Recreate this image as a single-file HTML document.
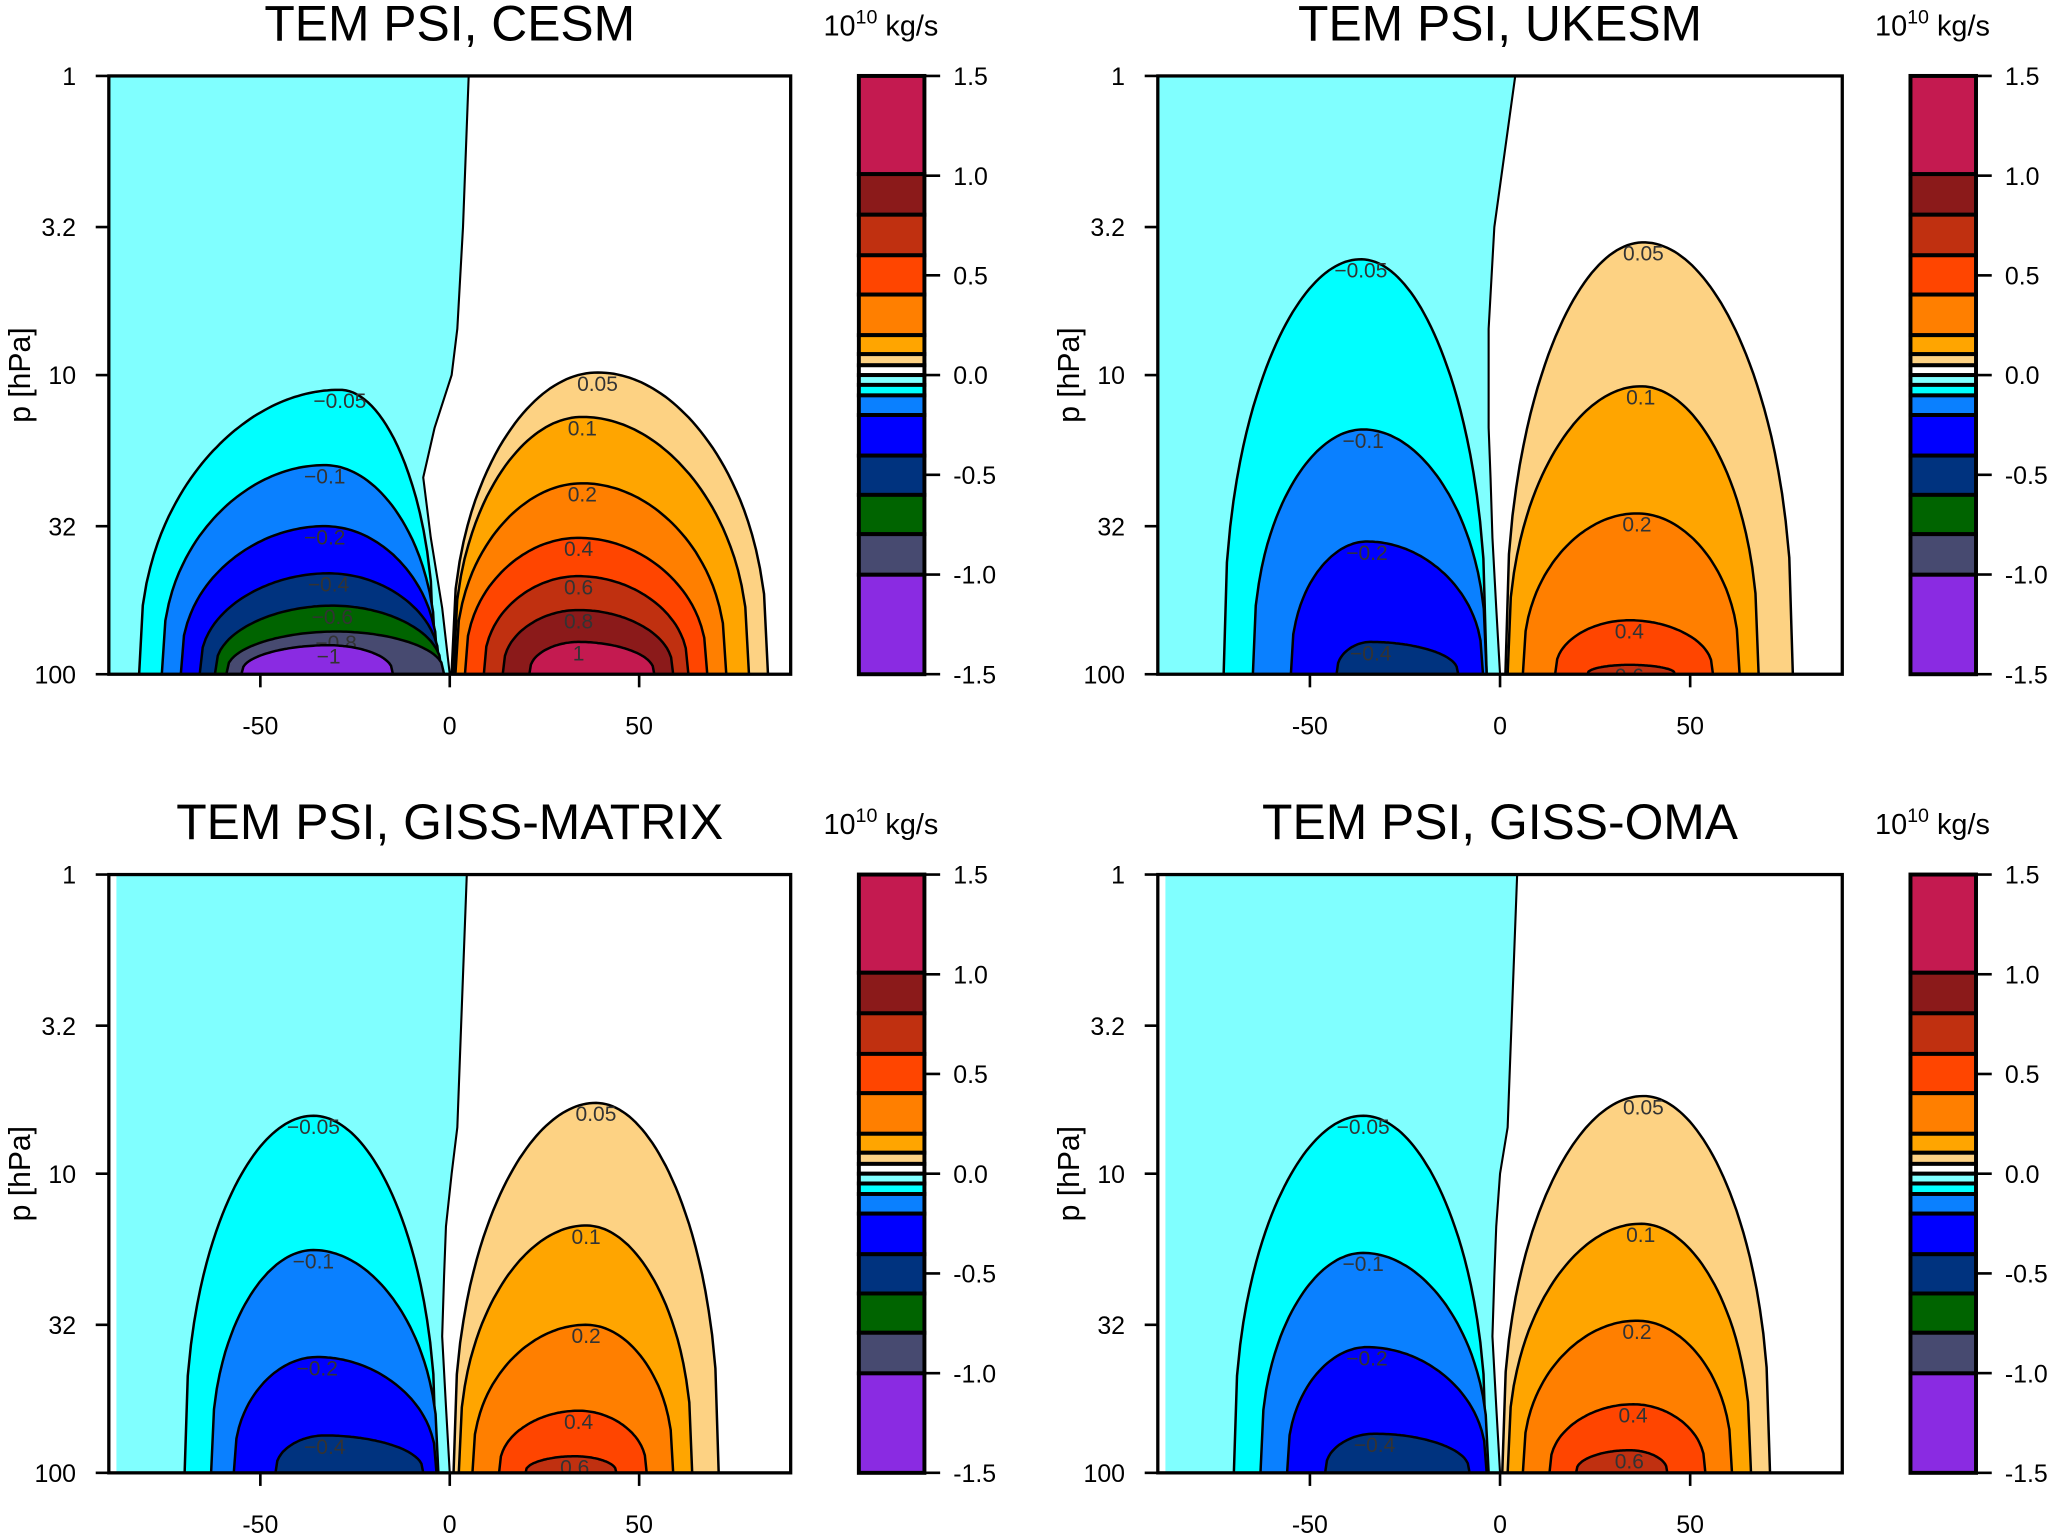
<!DOCTYPE html>
<html><head><meta charset="utf-8"><style>
html,body{margin:0;padding:0;background:#fff;overflow:hidden}
svg{display:block}
text{font-family:"Liberation Sans",sans-serif}
</style></head><body>
<svg id="fig" width="2056" height="1537" viewBox="0 0 1568 1174" preserveAspectRatio="none" xmlns="http://www.w3.org/2000/svg"></svg>
<script>
// contour data: [level, latLeft, latRight, latPeak, pTop(hPa)]
const cesmNeg = [[-0.05,-82,-4,-29,11.2],[-0.1,-76,-3.5,-33,20],[-0.2,-71,-3,-33,32],[-0.4,-66,-2.5,-32,46],[-0.6,-62,-2,-31,59],[-0.8,-59,-1.5,-30,72],[-1,-55,-15,-32,80]];
const cesmPos = [[0.05,0.5,84,39,9.8],[0.1,1,79,35,13.8],[0.2,1.5,73,35,23],[0.4,4,68,34,35],[0.6,9,63,34,47],[0.8,14,59,34,61],[1,21,54,34,78]];
const ukesmNeg = [[-0.05,-72.7,-3.5,-36.6,4.1],[-0.1,-65,-3.5,-36,15.2],[-0.2,-55,-4.5,-35,36],[-0.4,-43,-11,-34,78]];
const ukesmPos = [[0.05,1.4,77,37.7,3.6],[0.1,2,68,37,10.9],[0.2,6,63,36,29],[0.4,14.5,56,34,66],[0.6,23,46,34,93]];
const matrixNeg = [[-0.05,-70,-3.5,-36,6.4],[-0.1,-63,-3,-36,18],[-0.2,-57,-3.5,-35,41],[-0.4,-46,-7,-33,75]];
const matrixPos = [[0.05,1,71,38.6,5.8],[0.1,2.4,64,36,14.9],[0.2,6,59,36,32],[0.4,13,52,34,62],[0.6,20,44,33,88]];
const omaNeg = [[-0.05,-70,-3.5,-36,6.4],[-0.1,-63,-3,-36,18.4],[-0.2,-56,-3.5,-35,38],[-0.4,-46,-8,-33,74]];
const omaPos = [[0.05,0.6,71,37.7,5.5],[0.1,2,66,37,14.7],[0.2,6,61,36,31],[0.4,13,54,35,59],[0.6,20,44,34,84]];
// zero-line (light cyan boundary): pressures and latitudes
const zeroP = [1,3.2,7,10,15,22,35,60,100];
const cesmZeroLat = [5,3.5,2,0.5,-4,-7,-5,-2,0];
const ukesmZeroLat = [4,-1.5,-3,-3,-3,-2.5,-2,-1,0];
const matrixZeroLat = [4.5,3,2,0.5,-1,-1.5,-2,-1,0];
const omaZeroLat = [4.5,3,2,0,-1,-1.5,-2,-1,0];
const titles = ["TEM PSI, CESM","TEM PSI, UKESM","TEM PSI, GISS-MATRIX","TEM PSI, GISS-OMA"];
const yTicks = [1,3.2,10,32,100];
const yTickLabels = ["1","3.2","10","32","100"];
const xTicks = [-50,0,50];
const cbValues = [1.5,1.0,0.5,0.0,-0.5,-1.0,-1.5];
const cbLabels = ["1.5","1.0","0.5","0.0","-0.5","-1.0","-1.5"];

const colorOf = {"-0.05":"#00FFFF","-0.1":"#0A80FF","-0.2":"#0000FF","-0.4":"#00337F","-0.6":"#006400","-0.8":"#474A70","-1":"#8A2BE2",
 "0.05":"#FDD283","0.1":"#FFA500","0.2":"#FF7F00","0.4":"#FF4500","0.6":"#C03010","0.8":"#8B1A1A","1":"#C41A50"};
const cbBoxes = [[58,133,"#C41A50"],[133,164,"#8B1A1A"],[164,195,"#C03010"],[195,225,"#FF4500"],[225,256,"#FF7F00"],[256,270.5,"#FFA500"],[270.5,279,"#FDD283"],[279,286.5,"#FFFFFF"],[286.5,294,"#80FFFF"],[294,302,"#00FFFF"],[302,317,"#0A80FF"],[317,348,"#0000FF"],[348,378,"#00337F"],[378,408,"#006400"],[408,439,"#474A70"],[439,515,"#8A2BE2"]];

const NS="http://www.w3.org/2000/svg";
const svg=document.getElementById('fig');
function mk(tag,attrs,parent){const e=document.createElementNS(NS,tag);for(const k in attrs)e.setAttribute(k,attrs[k]);(parent||svg).appendChild(e);return e;}

const panels=[
 {x0:83,x1:603,y0:58,y1:515,neg:cesmNeg,pos:cesmPos,zero:cesmZeroLat,cyanStart:-90,name:"cesm"},
 {x0:883,x1:1405,y0:58,y1:515,neg:ukesmNeg,pos:ukesmPos,zero:ukesmZeroLat,cyanStart:-90,name:"ukesm"},
 {x0:83,x1:603,y0:668,y1:1125,neg:matrixNeg,pos:matrixPos,zero:matrixZeroLat,cyanStart:-88,name:"giss-matrix"},
 {x0:883,x1:1405,y0:668,y1:1125,neg:omaNeg,pos:omaPos,zero:omaZeroLat,cyanStart:-88,name:"giss-oma"}];

panels.forEach((P,pi)=>{
 const g=mk('g',{});
 
 
 const X=lat=>P.x0+(lat+90)/180*(P.x1-P.x0);
 const Y=p=>P.y0+Math.log10(p)/2*(P.y1-P.y0);
 const cid='clip'+pi;
 const cp=mk('clipPath',{id:cid},g);mk('rect',{x:P.x0,y:P.y0,width:P.x1-P.x0,height:P.y1-P.y0},cp);
 const pg=mk('g',{'clip-path':'url(#'+cid+')'},g);
 let d='M'+X(P.cyanStart)+','+Y(1);
 zeroP.forEach((p,i)=>{d+=' L'+X(P.zero[i])+','+Y(p);});
 d+=' L'+X(P.cyanStart)+','+Y(100)+' Z';
 const lc=mk('path',{d:d,fill:'#80FFFF',stroke:'none'},pg);
 
 
 let zl='M'+X(P.zero[0])+','+Y(zeroP[0]);
 zeroP.forEach((p,i)=>{zl+=' L'+X(P.zero[i])+','+Y(p);});
 const zz=mk('path',{d:zl,fill:'none',stroke:'#000','stroke-width':1.6,'stroke-linejoin':'round'},pg);
 
 
 function bump(c){
  const [lev,L,R,pk,top]=c;const lt=Math.log10(top);let pts=[];
  for(let i=0;i<=80;i++){const lat=L+(R-L)*i/80;let u=lat<pk?0.5*(lat-L)/(pk-L):0.5+0.5*(lat-pk)/(R-pk);
   const s=Math.pow(Math.max(0,Math.sin(Math.PI*u)),0.4);const lp=2-(2-lt)*s;pts.push(X(lat).toFixed(1)+','+Y(Math.pow(10,lp)).toFixed(1));}
  return 'M'+pts.join(' L')+' Z';
 }
 [P.neg,P.pos].forEach(arr=>{arr.forEach(c=>{
  const e=mk('path',{d:bump(c),fill:colorOf[String(c[0])],stroke:'#000','stroke-width':1.9},pg);
  
  
  const t=mk('text',{x:X(c[3]),y:Y(c[4])+14,'font-size':16,'text-anchor':'middle',fill:'#333'},pg);
  t.textContent=String(c[0]).replace('-','\u2212');
  
  
 });});
 const fr=mk('rect',{x:P.x0,y:P.y0,width:P.x1-P.x0,height:P.y1-P.y0,fill:'none',stroke:'#000','stroke-width':2.5},g);
 
 
 yTicks.forEach((p,i)=>{mk('line',{x1:P.x0-10,x2:P.x0,y1:Y(p),y2:Y(p),stroke:'#000','stroke-width':2},g);
  const t=mk('text',{x:P.x0-25,y:Y(p)+7,'font-size':19,'text-anchor':'end'},g);t.textContent=yTickLabels[i];
  
  });
 xTicks.forEach(v=>{mk('line',{x1:X(v),x2:X(v),y1:P.y1,y2:P.y1+10,stroke:'#000','stroke-width':2},g);
  const t=mk('text',{x:X(v),y:P.y1+46,'font-size':19,'text-anchor':'middle'},g);t.textContent=String(v);
  
  });
 const yl=mk('text',{x:0,y:0,'font-size':23,'text-anchor':'middle',transform:'translate('+(P.x0-60)+','+((P.y0+P.y1)/2)+') rotate(-90)'},g);
 yl.textContent='p [hPa]';
 
 
 const ti=mk('text',{x:(P.x0+P.x1)/2,y:P.y0-27,'font-size':38,'text-anchor':'middle'},g);ti.textContent=titles[pi];
 
 
 const cx=P.x1+52,cw=50,off=P.y0-58;
 const cb=mk('g',{},g);
 
 
 cbBoxes.forEach(b=>{mk('rect',{x:cx,y:b[0]+off,width:cw,height:b[1]-b[0],fill:b[2],stroke:'#000','stroke-width':3},cb);});
 mk('rect',{x:cx,y:P.y0,width:cw,height:P.y1-P.y0,fill:'none',stroke:'#000','stroke-width':2.5},cb);
 cbValues.forEach((v,i)=>{const y=P.y0+(1.5-v)/3*(P.y1-P.y0);
  mk('line',{x1:cx+cw,x2:cx+cw+12,y1:y,y2:y,stroke:'#000','stroke-width':2},cb);
  const t=mk('text',{x:cx+cw+22,y:y+7,'font-size':19},cb);t.textContent=cbLabels[i];
  
  });
 const u=mk('text',{x:cx-27,y:P.y0-31,'font-size':22},g);
 u.innerHTML='10<tspan dy="-9" font-size="15">10</tspan><tspan dy="9"> kg/s</tspan>';
 
 
});
</script>
</body></html>
